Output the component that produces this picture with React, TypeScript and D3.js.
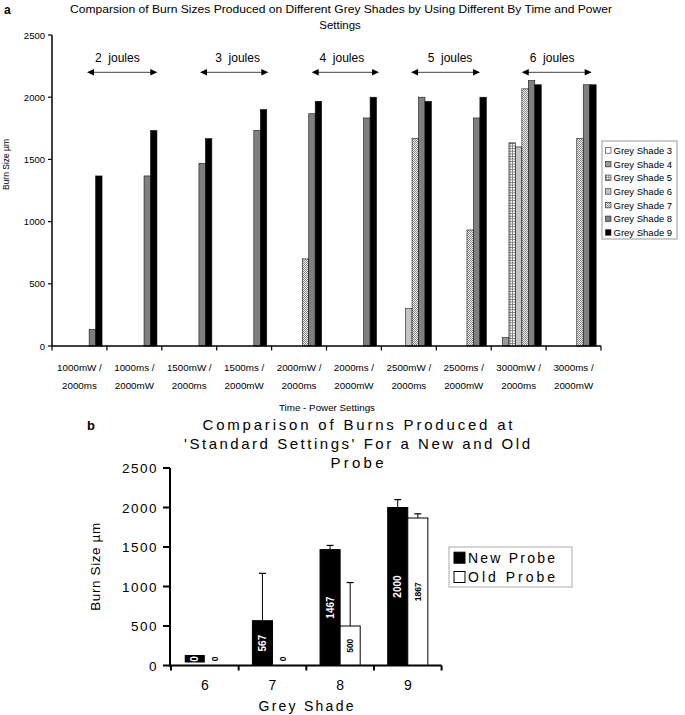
import React from 'react';
import * as d3 from 'd3';

// ---------- Chart a data ----------
const catLine1 = ['1000mW /', '1000ms /', '1500mW /', '1500ms /', '2000mW /', '2000ms /', '2500mW /', '2500ms /', '3000mW /', '3000ms /'];
const catLine2 = ['2000ms', '2000mW', '2000ms', '2000mW', '2000ms', '2000mW', '2000ms', '2000mW', '2000ms', '2000mW'];
const seriesNames = ['Grey Shade 3', 'Grey Shade 4', 'Grey Shade 5', 'Grey Shade 6', 'Grey Shade 7', 'Grey Shade 8', 'Grey Shade 9'];
const grey3 = [0, 0, 0, 0, 0, 0, 0, 0, 0, 0];
const grey4 = [0, 0, 0, 0, 0, 0, 0, 0, 67, 0];
const grey5 = [0, 0, 0, 0, 0, 0, 0, 0, 1633, 0];
const grey6 = [0, 0, 0, 0, 0, 0, 300, 0, 1600, 0];
const grey7 = [0, 0, 0, 0, 700, 0, 1667, 933, 2067, 1667];
const grey8 = [133, 1367, 1467, 1733, 1867, 1833, 2000, 1833, 2133, 2100];
const grey9 = [1367, 1733, 1667, 1900, 1967, 2000, 1967, 2000, 2100, 2100];
const yTicksA = [0, 500, 1000, 1500, 2000, 2500];
const jouleLabels = ['2  joules', '3  joules', '4  joules', '5  joules', '6  joules'];
const jouleFrom = [0.637, 2.696, 4.73, 6.54, 8.556];
const jouleTo = [1.918, 3.94, 5.956, 7.797, 9.83];
const jouleAt = [1.19, 3.38, 5.28, 7.25, 9.11];

// ---------- Chart b data ----------
const shades = ['6', '7', '8', '9'];
const probeNames = ['New Probe', 'Old Probe'];
const newProbe = [0, 567, 1467, 2000];
const oldProbe = [0, 0, 500, 1867];
const newUpper = [0, 1167, 1520, 2100];
const oldUpper = [0, 0, 1050, 1920];
const yTicksB = [0, 500, 1000, 1500, 2000, 2500];

const FONT = 'Liberation Sans, Arial, Helvetica, sans-serif';

export default function App() {
  // ---- scales a ----
  const xA = d3.scaleBand<string>().domain(catLine1.map((_, i) => String(i))).range([52, 601]).paddingInner(0).paddingOuter(0);
  const xInA = d3.scaleBand<string>().domain(seriesNames).range([0, xA.bandwidth()]).paddingInner(0).paddingOuter(0.75);
  const yA = d3.scaleLinear().domain([0, 2500]).range([346, 35]);
  const xCatUnits = d3.scaleLinear().domain([0, 10]).range([52, 601]);
  const seriesVals = [grey3, grey4, grey5, grey6, grey7, grey8, grey9];
  const fills = ['#ffffff', '#9a9a9a', 'url(#gridPat)', '#c4c4c4', 'url(#checkPat)', '#7f7f7f', '#000000'];

  // ---- scales b ----
  const xB = d3.scaleBand<string>().domain(shades).range([171, 441.6]).paddingInner(0).paddingOuter(0);
  const xInB = d3.scaleBand<string>().domain(probeNames).range([0, xB.bandwidth()]).paddingInner(0).paddingOuter(0.685);
  const yB = d3.scaleLinear().domain([0, 2500]).range([665.5, 468]);
  const probeVals = [newProbe, oldProbe];
  const probeUpper = [newUpper, oldUpper];

  const boundaries = d3.range(0, 11).map((i) => xCatUnits(i));

  return (
    <svg width={685} height={715} style={{ position: 'absolute', left: 0, top: 0, background: '#fff' }} fontFamily={FONT}>
      <defs>
        <pattern id="gridPat" width={2.6} height={2.6} patternUnits="userSpaceOnUse">
          <rect width={2.6} height={2.6} fill="#ffffff" />
          <path d="M0 0.4H2.6M0.4 0V2.6" stroke="#6a6a6a" strokeWidth={0.8} />
        </pattern>
        <pattern id="checkPat" width={2} height={2} patternUnits="userSpaceOnUse">
          <rect width={2} height={2} fill="#eeeeee" />
          <rect width={1} height={1} fill="#8a8a8a" />
          <rect x={1} y={1} width={1} height={1} fill="#8a8a8a" />
        </pattern>
      </defs>

      {/* ================= Chart a ================= */}
      <text x={4} y={14} fontSize={12} fontWeight="bold">a</text>
      <text x={341} y={13} fontSize={11.5} textAnchor="middle" textLength={542} lengthAdjust="spacingAndGlyphs">
        Comparsion of Burn Sizes Produced on Different Grey Shades by Using Different  By Time and Power
      </text>
      <text x={340} y={29} fontSize={11.5} textAnchor="middle">Settings</text>

      {/* bars */}
      {seriesVals.map((vals, s) =>
        vals.map((v, c) =>
          v > 0 ? (
            <rect
              key={`a-${s}-${c}`}
              x={(xA(String(c)) ?? 0) + (xInA(seriesNames[s]) ?? 0)}
              y={yA(v)}
              width={xInA.bandwidth()}
              height={yA(0) - yA(v)}
              fill={fills[s]}
              stroke="#111"
              strokeWidth={0.6}
            />
          ) : null
        )
      )}

      {/* y axis a */}
      <line x1={52} x2={52} y1={yA(2500)} y2={yA(0)} stroke="#000" strokeWidth={1.5} />
      {yTicksA.map((t) => (
        <g key={`ya-${t}`}>
          <line x1={48} x2={52} y1={yA(t)} y2={yA(t)} stroke="#000" strokeWidth={1.2} />
          <text x={45} y={yA(t) + 3.5} fontSize={9.5} textAnchor="end">{t}</text>
        </g>
      ))}
      <text transform={`translate(9,${(yA(0) + yA(2500)) / 2 - 26}) rotate(-90)`} fontSize={8.5} textAnchor="middle">Burn Size µm</text>

      {/* x axis a */}
      <line x1={52} x2={601} y1={yA(0)} y2={yA(0)} stroke="#000" strokeWidth={1.5} />
      {boundaries.map((b, i) => (
        <line key={`xt-${i}`} x1={b} x2={b} y1={yA(0)} y2={yA(0) + 4.5} stroke="#000" strokeWidth={1.2} />
      ))}
      {catLine1.map((l, i) => {
        const cx = (xA(String(i)) ?? 0) + xA.bandwidth() / 2;
        return (
          <g key={`xl-${i}`}>
            <text x={cx} y={371} fontSize={9.8} textAnchor="middle">{l}</text>
            <text x={cx} y={389} fontSize={9.8} textAnchor="middle">{catLine2[i]}</text>
          </g>
        );
      })}
      <text x={327} y={411} fontSize={9.8} textAnchor="middle">Time - Power Settings</text>

      {/* joules annotations */}
      {jouleLabels.map((l, i) => {
        const x1 = xCatUnits(jouleFrom[i]);
        const x2 = xCatUnits(jouleTo[i]);
        const ya = yA(2200);
        return (
          <g key={`j-${i}`}>
            <text x={xCatUnits(jouleAt[i])} y={yA(2320) + 4.5} fontSize={12} textAnchor="middle" style={{ whiteSpace: 'pre' }}>{l}</text>
            <line x1={x1 + 5} x2={x2 - 5} y1={ya} y2={ya} stroke="#444" strokeWidth={1} />
            <path d={`M${x1},${ya}L${x1 + 7},${ya - 3.2}L${x1 + 7},${ya + 3.2}Z`} fill="#000" />
            <path d={`M${x2},${ya}L${x2 - 7},${ya - 3.2}L${x2 - 7},${ya + 3.2}Z`} fill="#000" />
          </g>
        );
      })}

      {/* legend a */}
      <rect x={602} y={141} width={75} height={98} fill="#fff" stroke="#999" strokeWidth={1} />
      {seriesNames.map((n, i) => {
        const cy = 150.7 + i * 13.67;
        return (
          <g key={`la-${i}`}>
            <rect x={605.5} y={cy - 3} width={5.5} height={5.5} fill={fills[i]} stroke="#222" strokeWidth={0.6} />
            <text x={613.5} y={cy + 3.3} fontSize={9.5}>{n}</text>
          </g>
        );
      })}

      {/* ================= Chart b ================= */}
      <text x={87} y={430} fontSize={13} fontWeight="bold">b</text>
      <text x={357.5} y={430} fontSize={15} textAnchor="middle" textLength={310} lengthAdjust="spacing">Comparison of Burns Produced at</text>
      <text x={357} y={449} fontSize={15} textAnchor="middle" textLength={346} lengthAdjust="spacing">'Standard Settings' For a New and Old</text>
      <text x={357} y={468} fontSize={15} textAnchor="middle" textLength={53} lengthAdjust="spacing">Probe</text>

      {/* bars b */}
      {probeVals.map((vals, p) =>
        vals.map((v, c) => {
          const x = (xB(shades[c]) ?? 0) + (xInB(probeNames[p]) ?? 0);
          const w = xInB.bandwidth();
          const up = probeUpper[p][c];
          const cx = x + w / 2;
          const isNew = p === 0;
          const labelY = v > 0 ? (yB(0) + yB(v)) / 2 : yB(0) - 6.5;
          return (
            <g key={`b-${p}-${c}`}>
              {up > v ? (
                <g>
                  <line x1={cx} x2={cx} y1={yB(v)} y2={yB(up)} stroke="#000" strokeWidth={1} />
                  <line x1={cx - 3.5} x2={cx + 3.5} y1={yB(up)} y2={yB(up)} stroke="#000" strokeWidth={1.2} />
                </g>
              ) : null}
              {v > 0 ? (
                <rect x={x} y={yB(v)} width={w} height={yB(0) - yB(v)} fill={isNew ? '#000' : '#fff'} stroke="#000" strokeWidth={1} />
              ) : isNew ? (
                <rect x={x} y={labelY - 4} width={w} height={7.5} fill="#000" />
              ) : null}
              <text
                transform={`translate(${cx + (isNew ? 3.5 : 3)},${labelY}) rotate(-90)`}
                fontSize={isNew ? 10 : 8.5}
                fontWeight="bold"
                textAnchor="middle"
                fill={isNew ? '#fff' : '#000'}
              >
                {String(v)}
              </text>
            </g>
          );
        })
      )}

      {/* y axis b */}
      <line x1={170} x2={170} y1={yB(2500)} y2={yB(0) + 1} stroke="#000" strokeWidth={2} />
      {yTicksB.map((t) => (
        <g key={`yb-${t}`}>
          <line x1={163} x2={170} y1={yB(t)} y2={yB(t)} stroke="#000" strokeWidth={2} />
          <text x={158} y={yB(t) + 5} fontSize={13.5} textAnchor="end" letterSpacing={1.5}>{t}</text>
        </g>
      ))}
      <text transform={`translate(100,${(yB(0) + yB(2500)) / 2}) rotate(-90)`} fontSize={13.5} textAnchor="middle" textLength={88} lengthAdjust="spacing">Burn Size µm</text>

      {/* x axis b */}
      <line x1={169} x2={441.6} y1={yB(0)} y2={yB(0)} stroke="#000" strokeWidth={2} />
      {d3.range(0, 5).map((i) => {
        const bx = 171 + i * xB.step();
        return <line key={`xbt-${i}`} x1={bx} x2={bx} y1={yB(0)} y2={yB(0) + 5} stroke="#000" strokeWidth={2} />;
      })}
      {shades.map((s) => (
        <text key={`xbl-${s}`} x={(xB(s) ?? 0) + xB.bandwidth() / 2} y={690} fontSize={14} textAnchor="middle">{s}</text>
      ))}
      <text x={306} y={711} fontSize={14} textAnchor="middle" textLength={95} lengthAdjust="spacing">Grey Shade</text>

      {/* legend b */}
      <rect x={449} y={547} width={123} height={40} fill="#fff" stroke="#aaa" strokeWidth={1} />
      {probeNames.map((n, i) => {
        const cy = 557.7 + i * 19.3;
        return (
          <g key={`lb-${i}`}>
            <rect x={454} y={cy - 5.5} width={11} height={11} fill={i === 0 ? '#000' : '#fff'} stroke="#000" strokeWidth={1} />
            <text x={468} y={cy + 5} fontSize={14} textLength={87} lengthAdjust="spacing">{n}</text>
          </g>
        );
      })}
    </svg>
  );
}
